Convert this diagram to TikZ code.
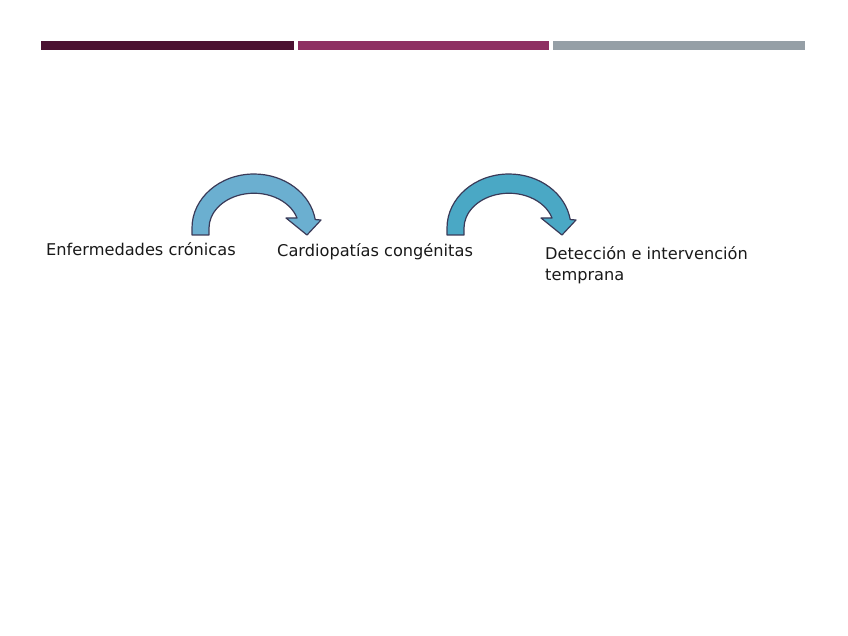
\documentclass[tikz,border=0pt]{standalone}
\usepackage{fontspec}
\setmainfont{DejaVu Sans}
\definecolor{barA}{HTML}{4B1131}
\definecolor{barB}{HTML}{8E2F62}
\definecolor{barC}{HTML}{959FA6}
\definecolor{arrowA}{HTML}{6BAFD0}
\definecolor{arrowB}{HTML}{4AA8C5}
\definecolor{arrowline}{HTML}{3A3A58}
\tikzset{
  label/.style={anchor=base west, inner sep=0pt, font=\fontsize{16.2}{21}\selectfont, text=black!90},
  bend arrow/.style={draw=arrowline, line width=1.2pt, line join=round}
}
\begin{document}
\begin{tikzpicture}[x=1pt, y=-1pt]
		  \useasboundingbox (0,0) rectangle (848,636);
		  % top bars
		  \fill[barA] (41,41) rectangle (294,50);
		  \fill[barB] (298,41) rectangle (549,50);
		  \fill[barC] (553,41) rectangle (805,50);
		  
		  % curved arrows
		  \foreach \dx/\col in {0/arrowA, 255/arrowB} {
		    \begin{scope}[xshift=\dx pt]
		      \draw[bend arrow, fill=\col] (192,235) -- (192,228)
		        arc[start angle=180, end angle=9, x radius=62pt, y radius=54pt]
		        -- (321,220) -- (307,235) -- (286,218) -- (297,218)
		        arc[start angle=17, end angle=180, x radius=45pt, y radius=35pt]
		        -- (209,235) -- cycle;
		    \end{scope}
		  }
		  
		  \node[label] (chronic) at (46,255) {Enfermedades crónicas};
		  \node[label] (cardio) at (277,257) {Cardiopatías congénitas};
		  \node[label, align=left] (early) at (545,280) {Detección e intervención\\temprana};
		\end{tikzpicture}
\end{document}
